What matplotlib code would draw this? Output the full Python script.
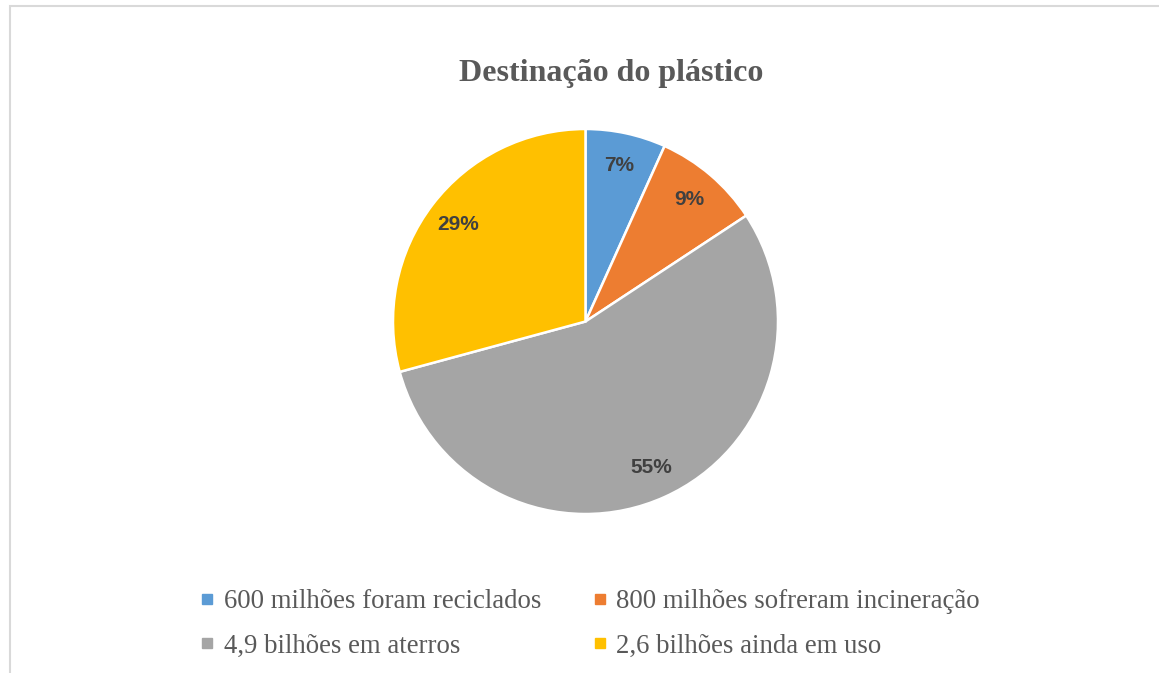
import matplotlib
import matplotlib.pyplot as plt
from matplotlib.patches import Rectangle
from matplotlib.lines import Line2D

plt.switch_backend('Agg')

# plastic destination, values in tonnes
labels = ["600 milhões foram reciclados", "800 milhões sofreram incineração",
          "4,9 bilhões em aterros", "2,6 bilhões ainda em uso"]
values = [600, 800, 4900, 2600]
colors = ["#5B9BD5", "#ED7D31", "#A5A5A5", "#FFC000"]
title = "Destinação do plástico"

W, H = 1159, 673
fig = plt.figure(figsize=(W / 100, H / 100), dpi=100)

# light frame round the chart area
fig.patches.append(Rectangle((9.5 / W, -0.1), 1.2, (H - 6.5) / H + 0.1,
                             transform=fig.transFigure, fill=False,
                             edgecolor="#D9D9D9", linewidth=1.5))

cx, cy, r = 585.5, 321.5, 192.5
ax = fig.add_axes([(cx - r) / W, (H - cy - r) / H, 2 * r / W, 2 * r / H])
wedges, _, autotexts = ax.pie(
    values, colors=colors, startangle=90, counterclock=False,
    autopct=lambda p: f"{p:.0f}%", pctdistance=0.83,
    wedgeprops=dict(edgecolor="white", linewidth=1.8),
    textprops=dict(fontsize=15, fontweight="bold", color="#404040",
                   family="Liberation Sans"))
ax.set_xlim(-1, 1)
ax.set_ylim(-1, 1)

fig.text(611 / W, 1 - 73 / H, title, ha="center", va="center",
         fontsize=23, fontweight="bold", color="#595959",
         family="Liberation Serif")

# column-major order so rows read left to right
order = [0, 2, 1, 3]
handles = [Line2D([], [], marker="s", linestyle="none", markersize=6.5,
                  markerfacecolor=colors[i], markeredgecolor=colors[i])
           for i in order]
leg = fig.legend(handles, [labels[i] for i in order], ncol=2,
                 loc="center", bbox_to_anchor=(590 / W, 1 - 624 / H),
                 frameon=False, handlelength=0.55, handletextpad=0.35,
                 columnspacing=1.9, labelspacing=0.72,
                 borderpad=0, borderaxespad=0,
                 prop=dict(family="Liberation Serif", size=19.3))
for t in leg.get_texts():
    t.set_color("#595959")

fig.savefig("out.png", dpi=100)
